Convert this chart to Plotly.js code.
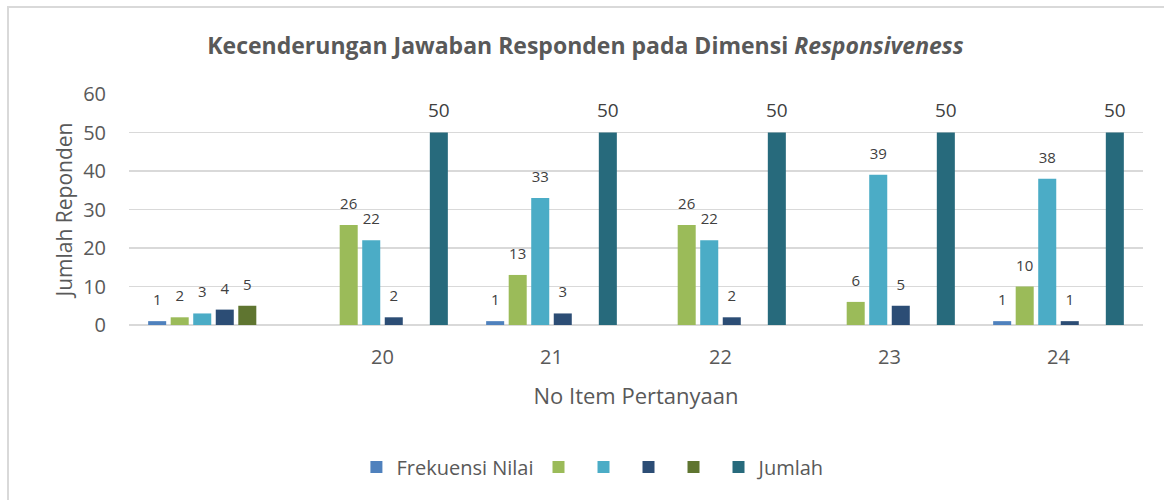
<!DOCTYPE html>
<html>
<head>
<meta charset="utf-8">
<script src="https://cdn.plot.ly/plotly-3.0.1.min.js"></script>
<style>
html,body{margin:0;padding:0;background:#fff;}
#wrap{position:relative;width:1164px;height:500px;}
#chart{position:absolute;left:0;top:0;width:1164px;height:500px;}
#frame{position:absolute;left:7px;top:6px;width:1170px;height:510px;border-left:2px solid #d9d9d9;border-top:2px solid #d9d9d9;pointer-events:none;}
</style>
</head>
<body>
<div id="wrap"><div id="chart"></div><div id="frame"></div></div>
<script>
const categories = ["", "20", "21", "22", "23", "24"];
const seriesNames = ["Frekuensi Nilai", "", "", "", "", "Jumlah"];
const s1 = [1, null, 1, null, null, 1];
const s2 = [2, 26, 13, 26, 6, 10];
const s3 = [3, 22, 33, 22, 39, 38];
const s4 = [4, 2, 3, 2, 5, 1];
const s5 = [5, null, null, null, null, null];
const jumlah = [null, 50, 50, 50, 50, 50];
const colors = ["#4f81bd", "#9bbb59", "#4bacc6", "#2c4d75", "#5f7530", "#276a7c"];
const catIdx = categories.map((c, i) => i);

const pad = '<span style="font-size:44px"> </span>';
const allSeries = [s1, s2, s3, s4, s5, jumlah];
const traces = allSeries.map((vals, k) => ({
  type: 'bar',
  name: seriesNames[k],
  x: catIdx,
  y: vals,
  marker: {color: colors[k]},
  text: vals.map(v => v === null ? '' : String(v)),
  texttemplate: pad + '%{text}' + pad,
  textposition: 'outside',
  constraintext: 'none',
  textfont: {family: 'Open Sans, sans-serif', size: k === 5 ? 19 : 15, color: '#404040'},
  cliponaxis: false,
  hoverinfo: 'skip'
}));

const layout = {
  width: 1164, height: 500,
  margin: {l: 129, r: 21, t: 94, b: 175},
  paper_bgcolor: '#ffffff', plot_bgcolor: '#ffffff',
  font: {family: 'Open Sans, sans-serif', color: '#595959'},
  barmode: 'group', bargap: 0.2, bargroupgap: 0.2,
  title: {
    text: '<b>Kecenderungan Jawaban Responden pada Dimensi <i>Responsiveness</i></b>',
    font: {size: 23, color: '#595959'},
    x: 0.503, xanchor: 'center', y: 0.908, yanchor: 'middle'
  },
  xaxis: {
    tickmode: 'array', tickvals: catIdx, ticktext: categories,
    range: [-0.5, 5.5],
    showgrid: false, zeroline: false, showline: false,
    ticks: '', tickfont: {size: 20, color: '#595959'},
    ticklabelstandoff: 18,
    title: {text: 'No Item Pertanyaan', font: {size: 22, color: '#595959'}, standoff: 19}
  },
  yaxis: {
    range: [0, 60], dtick: 10, tick0: 0,
    showgrid: true, gridcolor: '#d9d9d9', gridwidth: 1.5,
    zeroline: true, zerolinecolor: '#d9d9d9', zerolinewidth: 2,
    ticks: '', tickfont: {size: 20, color: '#595959'},
    ticklabelstandoff: 22,
    title: {text: 'Jumlah Reponden', font: {size: 21, color: '#595959'}, standoff: 4}
  },
  showlegend: true,
  legend: {
    orientation: 'h', x: 0.458, xanchor: 'center', y: -0.615, yanchor: 'middle',
    font: {size: 20, color: '#595959'}, traceorder: 'normal',
    itemwidth: 30
  }
};

Plotly.newPlot('chart', traces, layout, {staticPlot: true, displayModeBar: false});
</script>
</body>
</html>
